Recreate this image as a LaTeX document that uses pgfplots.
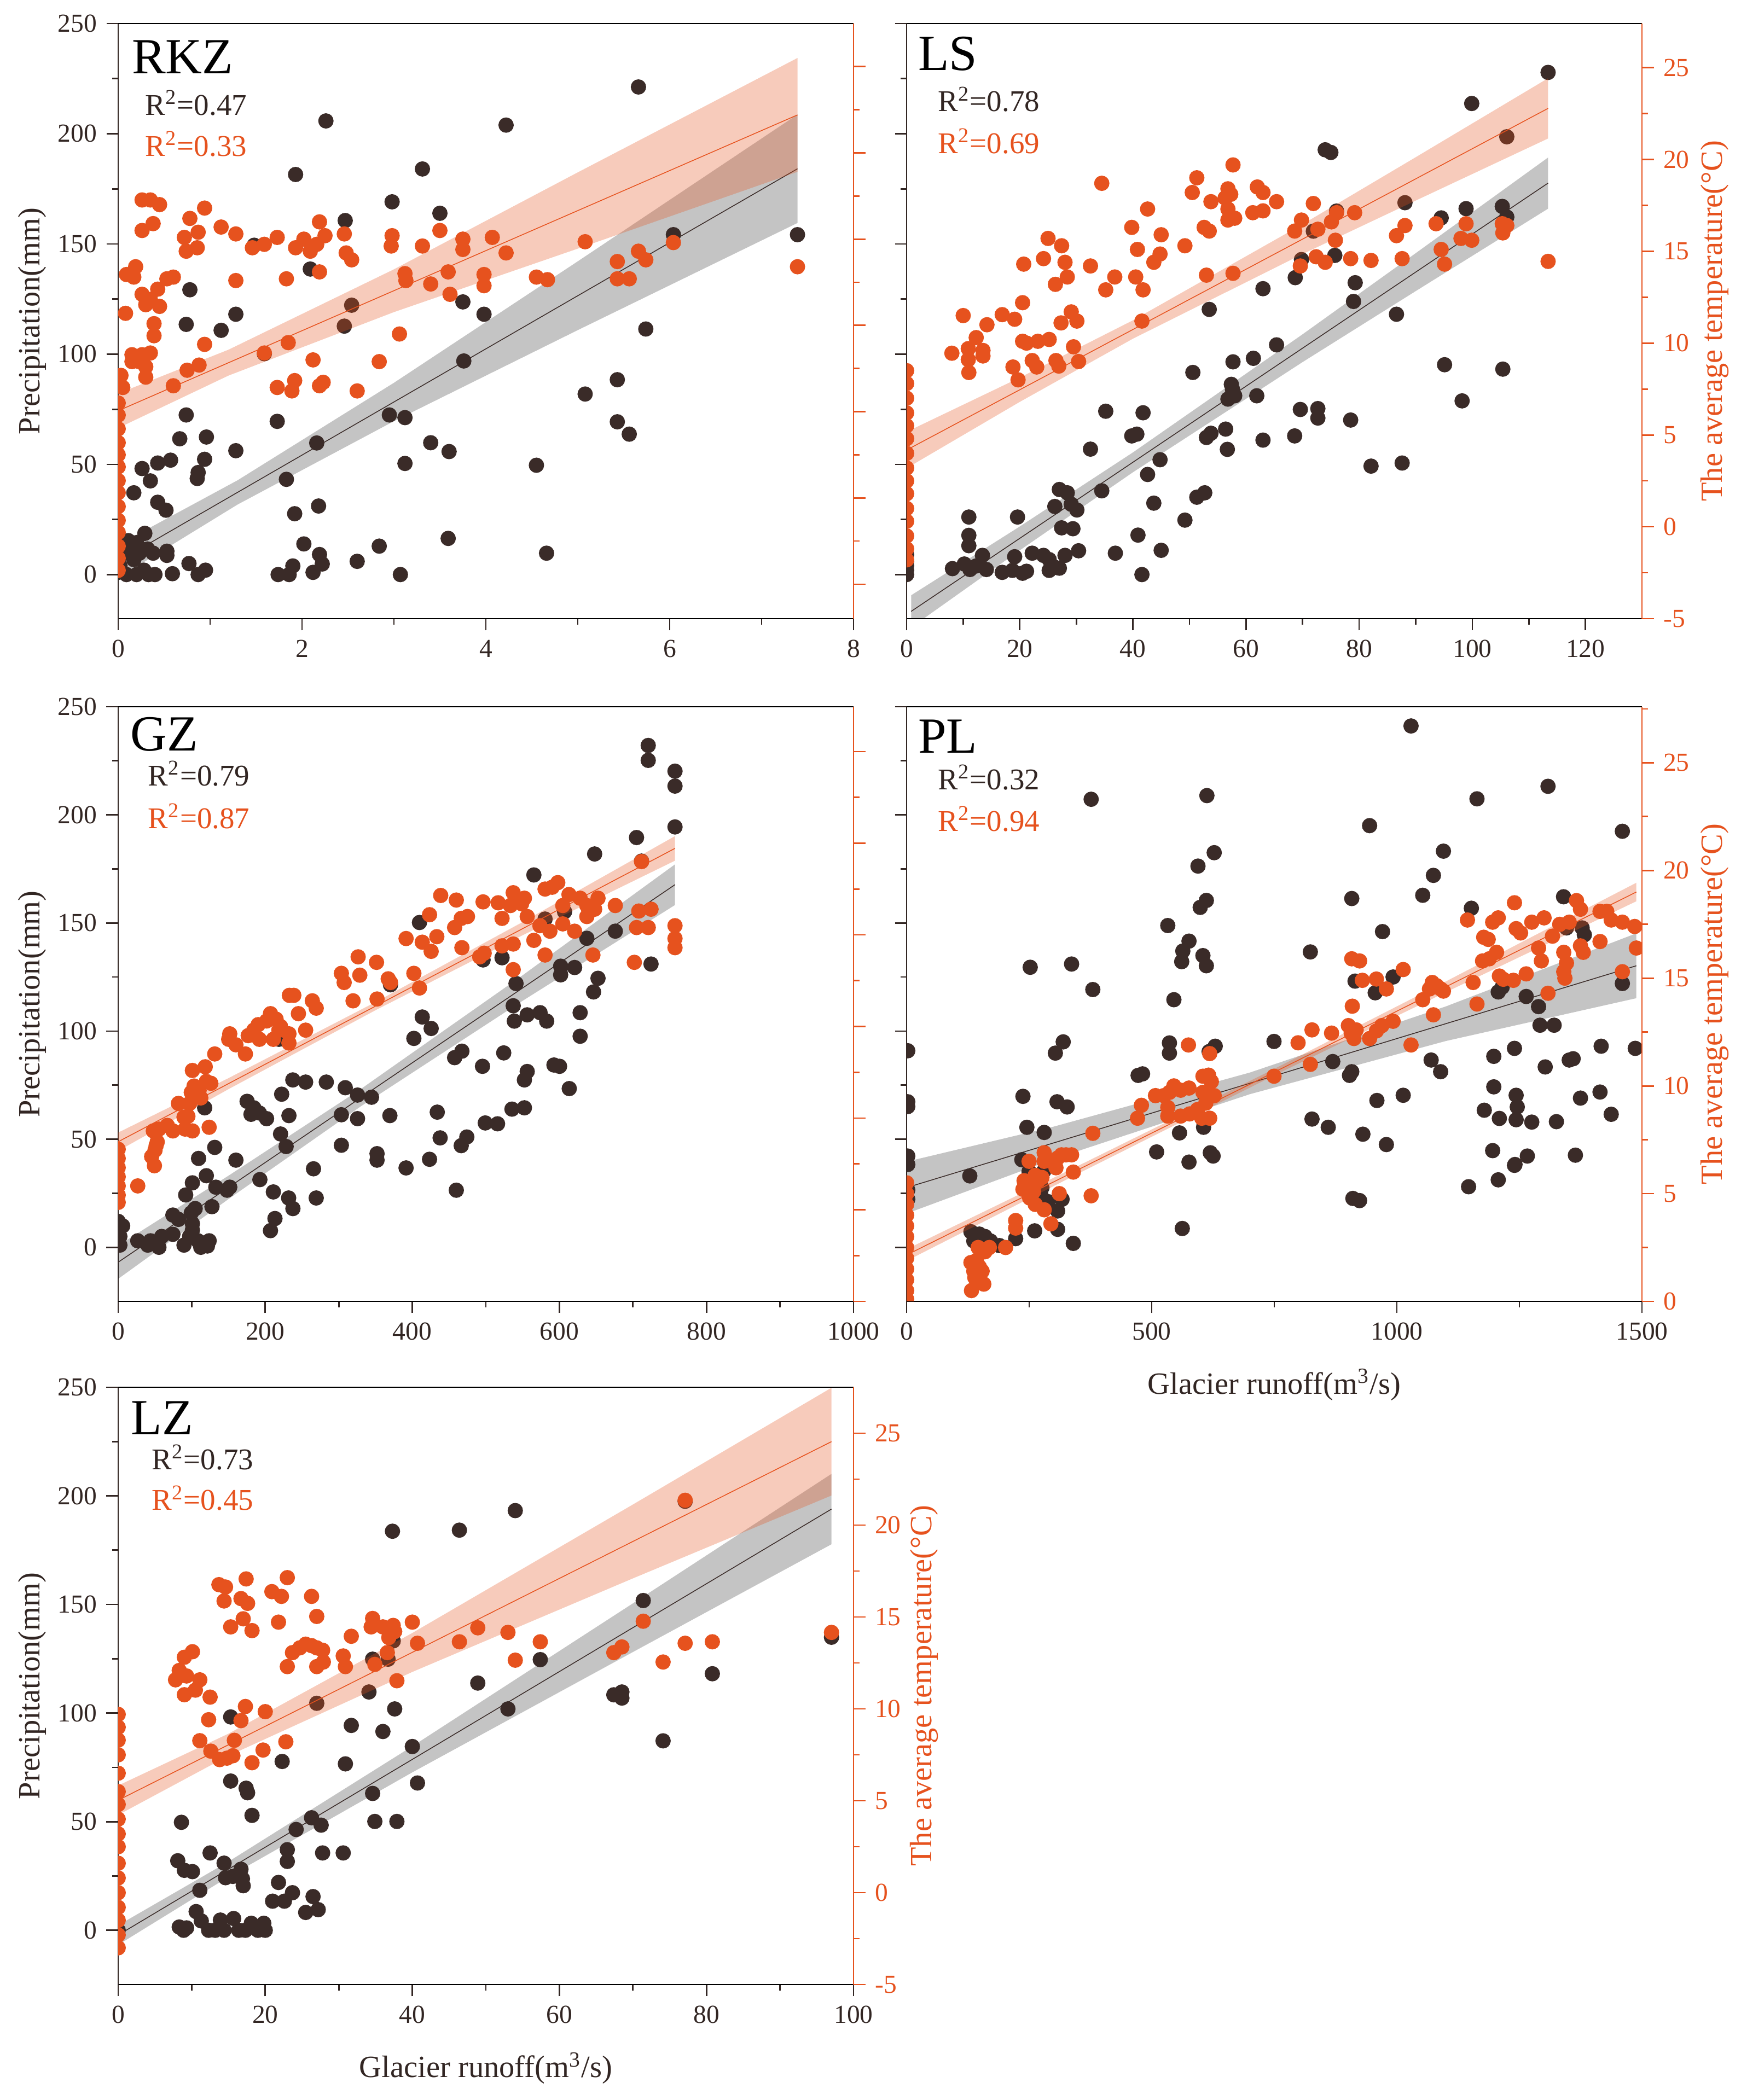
\documentclass[border=0pt]{standalone}
\usepackage{fontspec}
\setmainfont{Liberation Serif}
\usepackage{pgfplots}
\pgfplotsset{compat=1.18}
\definecolor{ptblack}{RGB}{58,43,40}
\definecolor{ptorange}{RGB}{230,82,30}
\definecolor{axdark}{RGB}{50,38,35}
\tikzset{
  ttl/.style={anchor=base west, inner sep=0pt, font=\fontsize{18.5}{20}\selectfont, black},
  rtxt/.style={anchor=base west, inner sep=0pt, font=\fontsize{11}{13}\selectfont},
}
\pgfplotsset{
  base/.style={scale only axis, width=268.8pt,
    tick align=outside, major tick length=4.3pt, minor tick length=2.2pt,
    /pgf/number format/assume math mode=true, /pgf/number format/1000 sep={},
    scaled ticks=false, clip marker paths=true,
    tick label style={font=\fontsize{9.5}{11}\selectfont},
    label style={font=\fontsize{11.3}{13}\selectfont},
    axis line style={line width=0.55pt},
  },
  leftax/.style={base, axis x line*=bottom, axis y line*=left,
    x axis line style={black}, y axis line style={axdark},
    tick style={line width=0.55pt, color=axdark},
    tick label style={color=axdark},
    ytick={0,50,...,250}, minor ytick={25,75,...,225}},
  rightax/.style={base, axis x line*=top, axis y line*=right, xtick=\empty,
    x axis line style={black}, y axis line style={ptorange},
    tick style={line width=0.55pt, color=ptorange},
    tick label style={color=ptorange},
    ytick={-5,0,...,25}, minor ytick={-2.5,2.5,...,22.5}},
  blackpts/.style={only marks, mark=*, mark size=2.6pt, color=ptblack},
  orangepts/.style={only marks, mark=*, mark size=2.6pt, color=ptorange},
  grayband/.style={fill=black, fill opacity=0.23, draw=none},
  orangeband/.style={fill=ptorange, fill opacity=0.3, draw=none},
  blackfit/.style={no marks, line width=0.3pt, color=ptblack},
  orangefit/.style={no marks, line width=0.3pt, color=ptorange},
}
\begin{document}
\begin{tikzpicture}
\useasboundingbox (0,0) rectangle (636.4pt,767.8pt);
%================ RKZ
\begin{axis}[leftax, at={(43.2pt,541.6pt)}, anchor=south west, height=217.6pt,
  xmin=0, xmax=8, ymin=-20, ymax=250, xtick={0,2,...,8}, minor xtick={1,3,5,7},
  ylabel={Precipitation(mm)}, ylabel style={at={(axis description cs:-0.117,0.5)}, anchor=center, color=axdark}]
\addplot[grayband] coordinates {(0.05,14.6)(1.3,42.8)(3,87.0)(5,142.1)(7.39,208.7)(7.39,159.5)(5,110.9)(3,69.6)(1.3,31.8)(0.05,-0.2)};
\addplot[blackfit] coordinates {(0.05,7.2)(7.39,184.1)};
\addplot[blackpts] coordinates {(5.66,221.2)(2.26,205.8)(4.22,203.9)(1.93,181.5)(3.31,184.0)(2.98,169.1)(3.50,163.9)(2.47,160.6)(6.04,154.2)(7.39,154.2)(1.48,149.4)(2.09,138.6)(0.78,129.2)(3.75,123.7)(1.28,118.1)(3.98,118.1)(2.54,122.2)(0.74,113.5)(1.12,110.8)(2.46,112.7)(5.74,111.4)(1.59,100.2)(3.76,96.9)(5.43,88.4)(5.08,81.9)(0.74,72.4)(1.73,69.5)(2.95,72.4)(3.12,71.2)(5.43,69.3)(5.56,63.7)(0.67,61.6)(0.96,62.4)(2.16,59.7)(3.40,59.8)(3.60,55.8)(1.28,56.2)(3.12,50.4)(4.55,49.6)(0.26,48.1)(0.43,50.6)(0.57,51.9)(0.94,52.3)(0.87,46.3)(0.86,43.6)(1.83,43.2)(0.35,42.5)(0.17,37.1)(0.43,32.8)(0.52,29.2)(2.18,31.1)(1.92,27.6)(2.02,13.9)(2.84,12.9)(3.59,16.4)(4.66,9.7)(2.19,9.1)(2.22,4.8)(2.60,6.0)(1.90,3.9)(1.74,0)(1.86,0)(2.12,1)(3.07,0)(0.95,2)(0.87,0)(0.77,5)(0.59,0.4)(0.11,15.4)(0.20,14.5)(0.29,18.7)(0.32,11.6)(0.38,9.7)(0.53,10.6)(0.15,9.7)(0.23,9.7)(0.06,9.7)(0.17,6.8)(0.09,0)(0.2,0)(0.33,0)(0.4,0)(0.02,3.9)(0.02,13.5)(0,5.8)(0,1)(0.28,2)(0.53,8.7)};
\node[ttl] at (axis description cs:0.018,0.916) {RKZ};
\node[rtxt, color=axdark] at (axis description cs:0.036,0.846) {R\textsuperscript{2}=0.47};
\node[rtxt, color=ptorange] at (axis description cs:0.036,0.777) {R\textsuperscript{2}=0.33};
\end{axis}
\begin{axis}[rightax, at={(43.2pt,541.6pt)}, anchor=south west, height=217.6pt,
  xmin=0, xmax=8, ymin=-7, ymax=27.5, yticklabels={,,,,,,}]
\addplot[orangeband] coordinates {(0,6.05)(1.2,8.59)(3,13.25)(5,18.87)(7.39,25.5)(7.39,18.9)(5,14.45)(3,10.77)(1.2,7.09)(0,4.05)};
\addplot[orangefit] coordinates {(0,5.05)(7.39,22.2)};
\addplot[orangepts] coordinates {(0.26,17.27)(0.35,17.27)(0.45,17.0)(0.26,15.5)(0.38,15.9)(0.72,15.1)(0.78,16.2)(0.74,14.3)(0.87,15.4)(0.86,14.5)(0.94,16.8)(1.12,15.7)(1.28,15.3)(0.09,12.95)(0.17,12.8)(0.19,13.4)(0.53,12.7)(0.60,12.8)(0.43,12.1)(0.26,11.8)(0.35,11.5)(0.45,11.1)(0.30,11.2)(0.08,10.7)(0.39,10.1)(0.39,9.4)(0.15,8.3)(0.26,8.3)(0.35,8.4)(0.15,7.9)(0.23,7.9)(0.30,7.6)(0.30,7.0)(0.05,6.4)(0.03,7.1)(0.60,6.5)(0.75,7.4)(0.88,7.7)(0.94,8.9)(1.28,12.6)(1.46,14.5)(1.59,14.7)(1.73,15.1)(1.93,14.5)(2.02,15.0)(2.09,14.3)(2.16,14.7)(2.19,16.0)(2.25,15.2)(2.19,13.1)(1.59,8.4)(1.85,9.0)(1.83,12.7)(1.73,6.4)(1.89,6.2)(1.92,6.8)(2.12,8.0)(2.19,6.5)(2.23,6.7)(2.60,6.2)(2.84,7.9)(2.46,15.3)(2.48,14.2)(2.54,13.8)(2.98,15.2)(2.97,14.6)(3.06,9.5)(3.12,13.0)(3.13,12.6)(3.31,14.6)(3.40,12.4)(3.50,15.5)(3.59,13.1)(3.61,11.8)(3.75,15.0)(3.75,14.4)(3.98,12.95)(3.98,12.3)(4.07,15.1)(4.22,14.2)(4.55,12.8)(4.67,12.65)(5.08,14.85)(5.43,13.7)(5.43,12.7)(5.56,12.7)(5.66,14.3)(5.74,13.8)(6.04,14.8)(7.39,13.4)(0,5.5)(0,4.8)(0,4.0)(0,3.2)(0,2.5)(0,1.8)(0,1.0)(0,0.3)(0,-0.5)(0,-1.3)(0,-2.0)(0,-2.8)(0,-3.5)(0,-4.2)};
\end{axis}
%================ LS
\begin{axis}[leftax, at={(331.4pt,541.6pt)}, anchor=south west, height=217.6pt,
  xmin=0, xmax=130, ymin=-20, ymax=250, xtick={0,20,...,120}, minor xtick={10,30,...,110}, yticklabels={,,,,,,}]
\addplot[grayband] coordinates {(0.8,-9.4)(20,21.8)(40,55.4)(70,109.0)(90,145.8)(113.4,189.2)(113.4,166.0)(90,128.6)(70,96.4)(40,46.4)(20,11.0)(0.8,-24.0)};
\addplot[blackfit] coordinates {(0.8,-16.7)(113.4,177.6)};
\addplot[blackpts] coordinates {(113.4,227.8)(99.9,213.7)(106.1,198.6)(74.0,192.7)(75.0,191.5)(88.1,168.7)(98.9,166.0)(105.3,167.0)(106.1,162.2)(94.5,161.8)(76.0,164.9)(71.9,155.8)(69.8,142.9)(75.7,144.8)(68.7,134.7)(79.3,132.4)(63.0,129.7)(79.0,123.9)(86.6,118.1)(53.5,120.3)(65.4,104.2)(61.3,98.1)(57.7,96.5)(50.6,91.7)(95.1,95.2)(105.4,93.2)(57.4,86.3)(57.6,84.0)(58.0,81.1)(56.8,79.6)(61.9,81.1)(98.2,78.8)(35.2,74.1)(41.8,73.4)(69.6,74.9)(72.7,75.3)(72.7,71.0)(78.5,70.1)(39.8,62.9)(40.7,63.7)(53.0,62.2)(53.8,64.1)(56.4,66.0)(68.6,62.9)(56.7,56.8)(63.0,61.0)(32.5,56.9)(44.8,52.1)(82.1,49.2)(87.6,50.6)(42.6,45.4)(34.5,38.0)(27.0,38.6)(28.4,37.1)(51.3,35.1)(52.7,37.1)(43.7,32.4)(26.2,30.9)(29.1,31.9)(30.1,29.3)(49.2,24.7)(11.0,26.1)(19.6,26.1)(27.4,21.2)(29.4,20.8)(40.9,17.9)(11.0,17.8)(11.0,13.1)(13.4,8.7)(19.1,8.1)(22.2,9.7)(24.2,8.7)(25.2,6.8)(28.0,8.7)(30.4,10.8)(36.9,9.7)(45.0,11.0)(8.1,2.7)(10.2,4.8)(11.2,2.3)(12.3,3.9)(14.1,2.3)(16.9,1.0)(18.7,1.9)(20.5,0.6)(21.2,1.5)(25.2,1.9)(26.2,3.3)(27.0,2.9)(41.6,0)(0,0)(0,2)(0,4)(0,6)(0,9)};
\node[ttl] at (axis description cs:0.015,0.921) {LS};
\node[rtxt, color=axdark] at (axis description cs:0.042,0.852) {R\textsuperscript{2}=0.78};
\node[rtxt, color=ptorange] at (axis description cs:0.042,0.782) {R\textsuperscript{2}=0.69};
\end{axis}
\begin{axis}[rightax, at={(331.4pt,541.6pt)}, anchor=south west, height=217.6pt,
  xmin=0, xmax=130, ymin=-5, ymax=27.4, yticklabels={-5,0,5,10,15,20,25},
  ylabel={The average temperature(°C)}, ylabel style={at={(axis description cs:1.099,0.5)}, anchor=center, color=ptorange}]
\addplot[orangeband] coordinates {(0,5.17)(20,8.12)(40,11.24)(70,16.47)(90,20.12)(113.4,24.42)(113.4,21.14)(90,17.76)(70,14.85)(40,10.24)(20,6.80)(0,3.19)};
\addplot[orangefit] coordinates {(0,4.18)(113.4,22.78)};
\addplot[orangepts] coordinates {(113.4,14.45)(34.5,18.7)(51.3,19.0)(50.5,18.2)(57.7,19.7)(56.8,18.4)(57.3,18.1)(56.3,17.9)(53.8,17.7)(42.6,17.3)(39.8,16.3)(40.8,15.1)(45.0,15.9)(52.6,16.3)(53.5,16.1)(49.2,15.3)(44.8,14.85)(43.7,14.4)(62.0,18.5)(63.0,18.2)(65.4,17.7)(61.2,17.1)(63.0,17.2)(56.8,17.3)(56.8,16.7)(58.0,16.8)(71.9,17.6)(69.8,16.7)(68.6,16.1)(72.7,16.2)(75.1,16.6)(76.0,17.1)(75.8,15.6)(79.2,17.1)(72.4,14.7)(74.0,14.4)(69.6,14.2)(78.5,14.6)(82.1,14.5)(86.6,15.85)(88.1,16.4)(87.6,14.6)(93.6,16.5)(94.5,15.1)(95.1,14.3)(98.9,16.5)(98.0,15.7)(99.9,15.6)(105.3,16.5)(105.4,16.0)(106.1,16.4)(57.7,13.8)(53.0,13.7)(20.7,14.3)(24.2,14.6)(25.0,15.7)(27.4,15.3)(28.0,14.4)(28.4,13.6)(26.3,13.2)(32.5,14.2)(36.8,13.6)(35.2,12.9)(40.5,13.6)(41.8,12.9)(41.6,11.2)(20.5,12.2)(16.9,11.55)(19.1,11.3)(14.2,11.0)(10.0,11.5)(27.3,11.1)(29.1,11.7)(30.1,11.2)(12.3,10.3)(8.0,9.45)(10.9,9.7)(13.5,9.6)(10.9,9.1)(13.5,9.3)(11.0,8.4)(20.5,10.1)(21.2,10.0)(23.2,10.1)(25.2,10.2)(29.5,9.8)(22.2,9.05)(23.0,8.7)(26.4,9.05)(26.9,8.75)(30.4,9.0)(18.8,8.7)(19.7,8.0)(0,8.5)(0,7.8)(0,7.0)(0,6.2)(0,5.5)(0,4.8)(0,4.0)(0,3.2)(0,2.5)(0,1.8)(0,1.0)(0,0.3)(0,-0.5)(0,-1.2)(0,-1.8)};
\end{axis}
%================ GZ
\begin{axis}[leftax, at={(43.2pt,292.0pt)}, anchor=south west, height=217.4pt,
  xmin=0, xmax=1000, ymin=-25, ymax=250, xtick={0,200,...,1000}, minor xtick={100,300,...,900},
  ylabel={Precipitation(mm)}, ylabel style={at={(axis description cs:-0.117,0.5)}, anchor=center, color=axdark}]
\addplot[grayband] coordinates {(0,0.8)(150,33.1)(330,73.2)(550,125.8)(757.2,177.1)(757.2,158.3)(550,114.0)(330,65.2)(150,22.3)(0,-14.6)};
\addplot[blackfit] coordinates {(0,-6.9)(757.2,167.7)};
\addplot[blackpts] coordinates {(720.8,232.1)(720.8,225.2)(757.2,220.2)(757.2,213.3)(757.2,194.4)(704.9,189.5)(711.7,178.6)(647.9,181.9)(565.3,172.2)(580.5,151.8)(676.0,146.2)(637.3,142.9)(607.0,155.2)(409.7,150.2)(601.7,130.0)(620.7,129.4)(601.7,126.0)(652.5,124.4)(724.6,131.0)(522.0,133.9)(496.2,132.9)(541.0,122.0)(370.3,121.4)(646.4,118.1)(537.2,111.7)(556.2,107.5)(573.7,108.5)(582.7,104.6)(538.7,104.6)(628.2,108.5)(628.2,97.6)(413.5,106.5)(425.6,101.2)(402.1,96.6)(524.3,89.9)(457.5,87.7)(467.4,90.7)(495.4,83.7)(592.6,84.3)(600.2,83.7)(556.2,81.3)(552.4,77.4)(613.4,73.4)(283.0,76.4)(254.9,76.4)(237.5,77.4)(308.8,73.8)(325.5,70.4)(344.5,69.4)(222.3,70.8)(175.3,67.5)(184.4,64.5)(192.0,62.1)(201.8,59.5)(180.6,61.5)(303.5,61.3)(325.5,59.5)(369.5,60.9)(433.9,62.5)(232.2,60.9)(220.8,52.4)(228.4,46.6)(303.5,47.2)(552.4,64.5)(535.5,63.9)(499.2,57.5)(515.9,57.1)(474.1,51.0)(466.5,47.0)(437.8,50.6)(423.4,40.7)(391.5,36.7)(352.0,43.3)(352.0,40.3)(459.8,26.4)(265.6,36.3)(269.3,22.8)(231.8,22.8)(237.6,17.9)(192.7,31.3)(211.0,25.6)(213.2,13.3)(207.1,7.7)(160.1,40.3)(131.3,46.2)(109.3,41.1)(119.9,33.1)(100.9,29.8)(91.8,24.2)(132.8,27.8)(151.7,27.8)(148.0,26.4)(127.5,18.8)(104.7,17.9)(99.4,15.9)(74.4,14.9)(82.0,12.9)(100.9,10.9)(100.9,7.9)(74.4,6.0)(59.2,5.0)(44.0,3.0)(26.6,3.0)(40.2,1.0)(55.4,0)(89.5,1.0)(108.5,3.0)(112.3,0)(121.4,0.6)(123.7,3.0)(97.1,5.0)(6.1,9.9)(2.3,5.0)(2.3,1.0)(117.6,64.5)(218.5,96.2)(0,12)(0,7)(0,3)};
\node[ttl] at (axis description cs:0.016,0.926) {GZ};
\node[rtxt, color=axdark] at (axis description cs:0.040,0.867) {R\textsuperscript{2}=0.79};
\node[rtxt, color=ptorange] at (axis description cs:0.040,0.795) {R\textsuperscript{2}=0.87};
\end{axis}
\begin{axis}[rightax, at={(43.2pt,292.0pt)}, anchor=south west, height=217.4pt,
  xmin=0, xmax=1000, ymin=-5, ymax=27.45, yticklabels={,,,,,,}]
\addplot[orangeband] coordinates {(0,4.21)(150,7.18)(350,11.33)(550,15.70)(757.2,20.39)(757.2,19.05)(550,14.98)(350,10.89)(150,6.58)(0,3.21)};
\addplot[orangefit] coordinates {(0,3.71)(757.2,19.72)};
\addplot[orangepts] coordinates {(711.7,19.0)(704.9,15.4)(708,16.3)(720.8,15.4)(724.6,16.4)(701.9,13.5)(757.2,15.5)(757.2,14.8)(757.2,14.3)(676.0,16.6)(652.5,17.0)(637.3,16.6)(637.3,16.0)(647.9,16.4)(628.2,17.0)(613.0,17.2)(620.7,15.2)(645.6,13.9)(597.8,17.85)(590.2,17.6)(580.5,17.5)(604.6,16.6)(604.6,15.6)(587.1,15.2)(573.5,15.5)(556.2,16.0)(565.3,14.7)(580.5,13.9)(552.4,17.0)(537.2,17.3)(548.6,16.7)(533.4,16.6)(522.0,15.9)(522.0,14.4)(516.7,16.75)(537.2,14.5)(537.2,13.1)(496.2,16.8)(497.7,14.0)(491.6,13.8)(459.8,16.9)(438.6,17.15)(457.5,15.4)(466.6,15.9)(475,16.0)(467.4,14.3)(423.4,16.1)(433.3,14.9)(413.5,14.6)(425.6,14.1)(391.5,14.8)(402.1,12.9)(409.7,12.1)(326.3,13.8)(351.3,13.5)(328.6,12.8)(303.5,12.9)(307.3,12.4)(319.4,11.4)(352.0,11.5)(367.2,12.6)(370.3,12.4)(232.8,11.7)(238.8,11.7)(264.0,11.4)(269.3,11.0)(245.1,10.7)(254.9,9.8)(207.1,10.7)(214.7,10.4)(220.8,10.0)(201.8,10.3)(190.4,10.1)(184.4,9.8)(176.8,9.5)(192.0,9.3)(232.2,9.6)(232.2,9.1)(218.5,9.8)(211.0,9.3)(151.7,9.6)(150.3,9.3)(160.1,9.0)(173.0,8.5)(131.3,8.5)(118.4,7.8)(100.9,7.6)(103.2,6.75)(119.9,7.0)(126.0,6.9)(110.0,6.5)(99.4,6.4)(112.3,6.1)(97.1,5.8)(94.8,5.1)(100.9,4.3)(91.0,4.4)(89.5,5.05)(82.0,5.8)(123.7,4.5)(66.8,4.6)(74.4,4.3)(55.4,4.4)(47.8,4.3)(53.1,3.7)(50.1,3.25)(51.6,3.5)(45.5,2.9)(49.3,2.4)(26.6,1.3)(0,3.3)(0,2.8)(0,2.3)(0,1.8)(0,1.3)(0,0.8)(0,0.4)};
\end{axis}
%================ PL
\begin{axis}[leftax, at={(331.4pt,292.0pt)}, anchor=south west, height=217.4pt,
  xmin=0, xmax=1500, ymin=-25, ymax=250, xtick={0,500,1000,1500}, minor xtick={250,750,1250}, yticklabels={,,,,,,},
  xlabel={Glacier runoff(m\textsuperscript{3}/s)}, xlabel style={at={(axis description cs:0.5,-0.14)}, anchor=center, color=axdark}]
\addplot[grayband] coordinates {(0,39.6)(300,55.8)(700,80.8)(1100,111.4)(1488.5,145.2)(1488.5,115.2)(1100,95.4)(700,70.8)(300,40.8)(0,15.6)};
\addplot[blackfit] coordinates {(0,27.6)(1488.5,130.2)};
\addplot[blackpts] coordinates {(1028.9,241.1)(1308.3,213.2)(1163.4,207.4)(376.4,207.2)(612.5,208.9)(1460,192.4)(944.4,195.0)(627.4,182.5)(1095,183.2)(594.3,176.3)(1074.5,172.0)(1052.8,162.8)(908,161.3)(611.4,160.4)(598.8,157.2)(1152,156.8)(1340,162.1)(532.7,148.8)(970.7,146.0)(576,141.6)(1377.9,147.7)(1382.4,144.5)(1346,147.7)(563.4,137.0)(561.1,132.1)(604.4,134.9)(611.4,130.2)(252.1,129.5)(336.5,131.0)(823.5,136.6)(379.8,119.2)(914.7,123.1)(992.3,125.0)(955.8,117.7)(545.2,114.5)(1460,122.0)(1206.8,118.1)(1214.8,120.3)(1263.8,116.0)(1289,111.3)(1292,102.7)(1320.8,102.7)(319.4,95.0)(303.4,89.8)(536.1,94.5)(536.1,89.8)(629.5,93.0)(617,90.5)(749.4,95.2)(1416.7,93.0)(1486.3,92.0)(869.2,85.9)(1069.9,86.6)(1197.7,88.3)(1239.9,92.0)(1359.6,87.2)(1351.6,86.6)(1089.3,81.2)(1302.6,83.4)(908,81.2)(903.4,79.5)(472.2,79.5)(481.3,80.2)(1197.7,74.2)(1414.4,71.8)(1012.9,70.3)(1178.3,63.4)(1243.3,70.3)(1245.6,64.9)(1209.1,59.6)(1243.3,59.0)(1275.2,57.9)(1325.4,58.1)(1374.5,69.0)(1437.2,61.5)(959.3,67.9)(237.3,69.8)(306.8,67.3)(327.4,64.9)(245.3,55.5)(280.6,53.1)(556.6,52.9)(605.7,55.5)(826.9,59.3)(860,55.5)(930.7,52.3)(978.6,47.5)(509.9,44.1)(619.5,43.7)(625.2,42.2)(576,39.4)(1195.4,44.7)(1266.1,42.2)(1239.9,37.9)(1364.2,42.6)(2.3,90.9)(2.3,67.3)(2.3,65.1)(2.3,42.2)(2.3,38.3)(2.3,26.5)(2.3,22.2)(235,40.5)(249.8,35.1)(262.3,29.7)(279.4,35.1)(276,27.6)(288.6,21.1)(308,16.8)(317.1,22.2)(273.8,24.4)(261.2,7.6)(222.4,4.0)(189.3,0.8)(128.9,33.0)(131.2,7.2)(148.3,6.1)(159.7,5.0)(171.1,2.9)(137.0,2.9)(340,1.8)(562.3,8.7)(308,8.3)(1146.3,28.0)(910.3,22.6)(923.9,21.6)(1206.8,31.2)(1241,38.3)};
\node[ttl] at (axis description cs:0.015,0.922) {PL};
\node[rtxt, color=axdark] at (axis description cs:0.042,0.861) {R\textsuperscript{2}=0.32};
\node[rtxt, color=ptorange] at (axis description cs:0.042,0.791) {R\textsuperscript{2}=0.94};
\end{axis}
\begin{axis}[rightax, at={(331.4pt,292.0pt)}, anchor=south west, height=217.4pt,
  xmin=0, xmax=1500, ymin=0, ymax=27.6, ytick={0,5,...,25}, minor ytick={2.5,7.5,...,27.5}, yticklabels={0,5,10,15,20,25},
  ylabel={The average temperature(°C)}, ylabel style={at={(axis description cs:1.099,0.5)}, anchor=center, color=ptorange}]
\addplot[orangeband] coordinates {(0,2.42)(350,6.29)(750,10.79)(1100,14.85)(1488.5,19.43)(1488.5,18.57)(1100,14.35)(750,10.49)(350,5.93)(0,1.88)};
\addplot[orangefit] coordinates {(0,2.15)(1488.5,19.0)};
\addplot[orangepts] coordinates {(1239.9,18.5)(1144,17.7)(1195.4,17.6)(1206.8,17.8)(1243.3,17.3)(1252.4,17.1)(1275.2,17.6)(1300.3,17.8)(1317.4,16.95)(1332.2,17.5)(1351.6,17.6)(1366.4,18.6)(1374.5,18.2)(1414.4,18.1)(1428.1,18.1)(1437.2,17.7)(1460,17.6)(1485.1,17.4)(1488.5,16.4)(1177.1,16.9)(1186.3,16.8)(1203.4,16.2)(1174.8,15.8)(1188.5,15.9)(1289,16.4)(1294.8,15.8)(1340.4,16.2)(1346,15.7)(1374.5,16.5)(1380.2,16.2)(1414.4,16.7)(1209.1,15.1)(1217.1,14.95)(1237.6,14.9)(1263.8,15.2)(1340.4,15.3)(1342.7,15.0)(1460,15.3)(1155.5,14.8)(1163.4,13.8)(1308.3,14.3)(1072.2,14.8)(1081.3,14.65)(1089.3,14.5)(1095,14.4)(1066.5,14.5)(1052.8,14.0)(1074.5,13.3)(1012.9,15.4)(908,15.9)(924,15.8)(929.6,14.9)(958.2,14.96)(978.6,14.5)(909.1,13.7)(992.3,13.0)(969.5,12.8)(958.2,12.55)(944.4,12.2)(901.1,12.8)(912.5,12.2)(906.8,12.45)(917,12.6)(1028.9,11.9)(798.5,12.0)(826.9,12.6)(866.8,12.45)(823.5,11.0)(749.4,10.45)(574.9,11.9)(618.2,11.5)(604.5,10.45)(615.9,10.5)(621.6,10.2)(604.5,9.7)(615.9,9.5)(627.4,9.55)(610.2,9.2)(602.2,8.5)(618.2,8.5)(593.2,8.9)(577.2,8.7)(559,8.6)(545.2,10.0)(559,9.8)(576,9.9)(536,9.7)(524.8,9.55)(507.6,9.55)(479,9.1)(471,8.5)(532.7,9.0)(532.7,8.6)(379.8,7.8)(376.4,4.9)(340,6.0)(336.5,6.8)(325.1,6.8)(316,6.8)(308,6.65)(304.6,6.2)(311.4,5.0)(280.6,6.9)(280.6,6.5)(276,5.75)(268.1,5.6)(262.3,5.85)(249.8,6.5)(239.6,5.6)(247.5,5.4)(237.3,5.2)(258.9,5.1)(250.9,4.8)(262.3,4.5)(280.6,4.25)(294.3,3.6)(222.4,3.75)(222.4,3.4)(201.9,2.5)(168.8,2.5)(159.7,2.3)(145.9,2.5)(131.2,1.8)(142.5,1.9)(148.3,1.6)(139.1,1.1)(154.0,1.4)(137.0,1.4)(157.4,0.8)(132.3,0.5)(0,5.5)(0,5.0)(0,4.5)(0,4.0)(0,3.5)(0,3.0)(0,2.5)(0,2.0)(0,1.5)(0,1.0)(0,0.5)(0,0.1)};
\end{axis}
%================ LZ
\begin{axis}[leftax, at={(43.2pt,42.2pt)}, anchor=south west, height=218.4pt,
  xmin=0, xmax=100, ymin=-25, ymax=250, xtick={0,20,...,100}, minor xtick={10,30,...,90},
  ylabel={Precipitation(mm)}, ylabel style={at={(axis description cs:-0.117,0.5)}, anchor=center, color=axdark},
  xlabel={Glacier runoff(m\textsuperscript{3}/s)}, xlabel style={at={(axis description cs:0.5,-0.14)}, anchor=center, color=axdark}]
\addplot[grayband] coordinates {(0,2.3)(15,31.6)(40,84.7)(70,150.5)(97,210.1)(97,177.7)(70,128.1)(40,72.7)(15,24.6)(0,-6.7)};
\addplot[blackfit] coordinates {(0,-2.2)(97,193.9)};
\addplot[blackpts] coordinates {(54.0,193.2)(46.4,184.2)(37.3,183.7)(77.1,197.5)(71.4,151.8)(97.0,134.9)(37.4,133.2)(34.6,124.8)(36.7,124.8)(57.4,124.6)(80.8,118.1)(48.9,113.8)(67.4,108.4)(68.5,109.7)(68.5,106.9)(34.1,109.7)(27.0,104.5)(37.6,101.9)(53.0,101.9)(15.3,98.2)(31.7,94.3)(36.0,91.5)(74.1,87.2)(40.0,84.6)(22.3,77.7)(30.9,76.6)(40.7,67.8)(15.3,68.7)(17.4,65.4)(17.6,63.3)(34.6,63.0)(18.2,52.9)(26.3,51.8)(34.9,50.1)(37.9,50.1)(8.6,49.7)(24.2,46.4)(27.6,48.4)(12.5,35.6)(27.8,35.6)(30.6,35.6)(23.0,37.1)(23.0,31.7)(8.1,32.0)(9.0,27.6)(10.1,27.0)(14.4,30.9)(14.6,24.2)(15.6,24.8)(16.7,28.1)(16.9,23.7)(17.0,20.5)(21.8,22.0)(11.1,18.4)(23.7,17.3)(22.6,13.4)(21.0,13.4)(26.5,15.5)(27.2,9.5)(25.5,8.2)(10.6,8.6)(11.3,4.3)(15.7,5.4)(13.9,4.7)(8.3,1.5)(9.3,1.1)(8.9,0)(12.3,0)(13.2,0)(14.4,0)(16.4,0)(17.3,0)(18.1,3.2)(19.0,0)(19.8,3.2)(20.0,0)(0,0)};
\node[ttl] at (axis description cs:0.017,0.921) {LZ};
\node[rtxt, color=axdark] at (axis description cs:0.045,0.862) {R\textsuperscript{2}=0.73};
\node[rtxt, color=ptorange] at (axis description cs:0.045,0.794) {R\textsuperscript{2}=0.45};
\end{axis}
\begin{axis}[rightax, at={(43.2pt,42.2pt)}, anchor=south west, height=218.4pt,
  xmin=0, xmax=100, ymin=-5, ymax=27.5, yticklabels={-5,0,5,10,15,20,25},
  ylabel={The average temperature(°C)}, ylabel style={at={(axis description cs:1.096,0.5)}, anchor=center, color=ptorange}]
\addplot[orangeband] coordinates {(0,5.83)(15,8.65)(40,14.13)(70,21.12)(97,27.47)(97,21.61)(70,17.10)(40,12.01)(15,7.45)(0,4.23)};
\addplot[orangefit] coordinates {(0,5.03)(97,24.54)};
\addplot[orangepts] coordinates {(77.1,21.35)(97.0,14.16)(71.4,14.77)(80.8,13.65)(77.1,13.57)(74.1,12.55)(68.5,13.37)(67.4,13.06)(57.4,13.65)(54.0,12.65)(53.0,14.16)(48.9,14.41)(46.4,13.65)(40.7,13.57)(40.0,14.72)(37.9,11.53)(37.4,14.54)(37.6,14.21)(36.8,13.88)(36.6,13.06)(36.0,14.46)(34.6,14.92)(34.4,14.46)(34.9,12.42)(31.7,13.95)(30.6,12.88)(30.9,12.3)(27.8,13.19)(27.0,13.32)(26.3,13.44)(25.5,13.52)(24.7,13.32)(23.7,13.06)(23.0,12.3)(27.0,12.3)(27.9,12.55)(26.3,16.12)(27.0,15.03)(23.0,17.14)(22.2,16.12)(21.8,14.72)(20.9,16.38)(17.4,17.07)(17.6,15.74)(16.7,16.0)(17.0,14.9)(18.2,14.26)(15.3,14.46)(14.4,15.87)(13.7,16.76)(14.6,16.63)(10.1,13.11)(9.0,12.81)(8.3,12.09)(9.3,11.79)(7.8,11.58)(9.0,10.77)(10.5,11.02)(11.1,11.58)(12.5,10.64)(12.3,9.41)(11.1,8.27)(12.6,7.7)(13.8,7.24)(14.8,7.32)(15.6,7.45)(15.8,8.29)(16.7,9.36)(17.3,10.13)(18.2,7.07)(19.7,7.76)(20.0,9.85)(22.8,8.21)(0,9.7)(0,9.0)(0,8.3)(0,7.5)(0,6.5)(0,5.5)(0,4.8)(0,4.0)(0,3.2)(0,2.5)(0,1.6)(0,0.8)(0,0)(0,-0.8)(0,-1.5)(0,-2.3)(0,-3.0)};
\end{axis}
\end{tikzpicture}
\end{document}
